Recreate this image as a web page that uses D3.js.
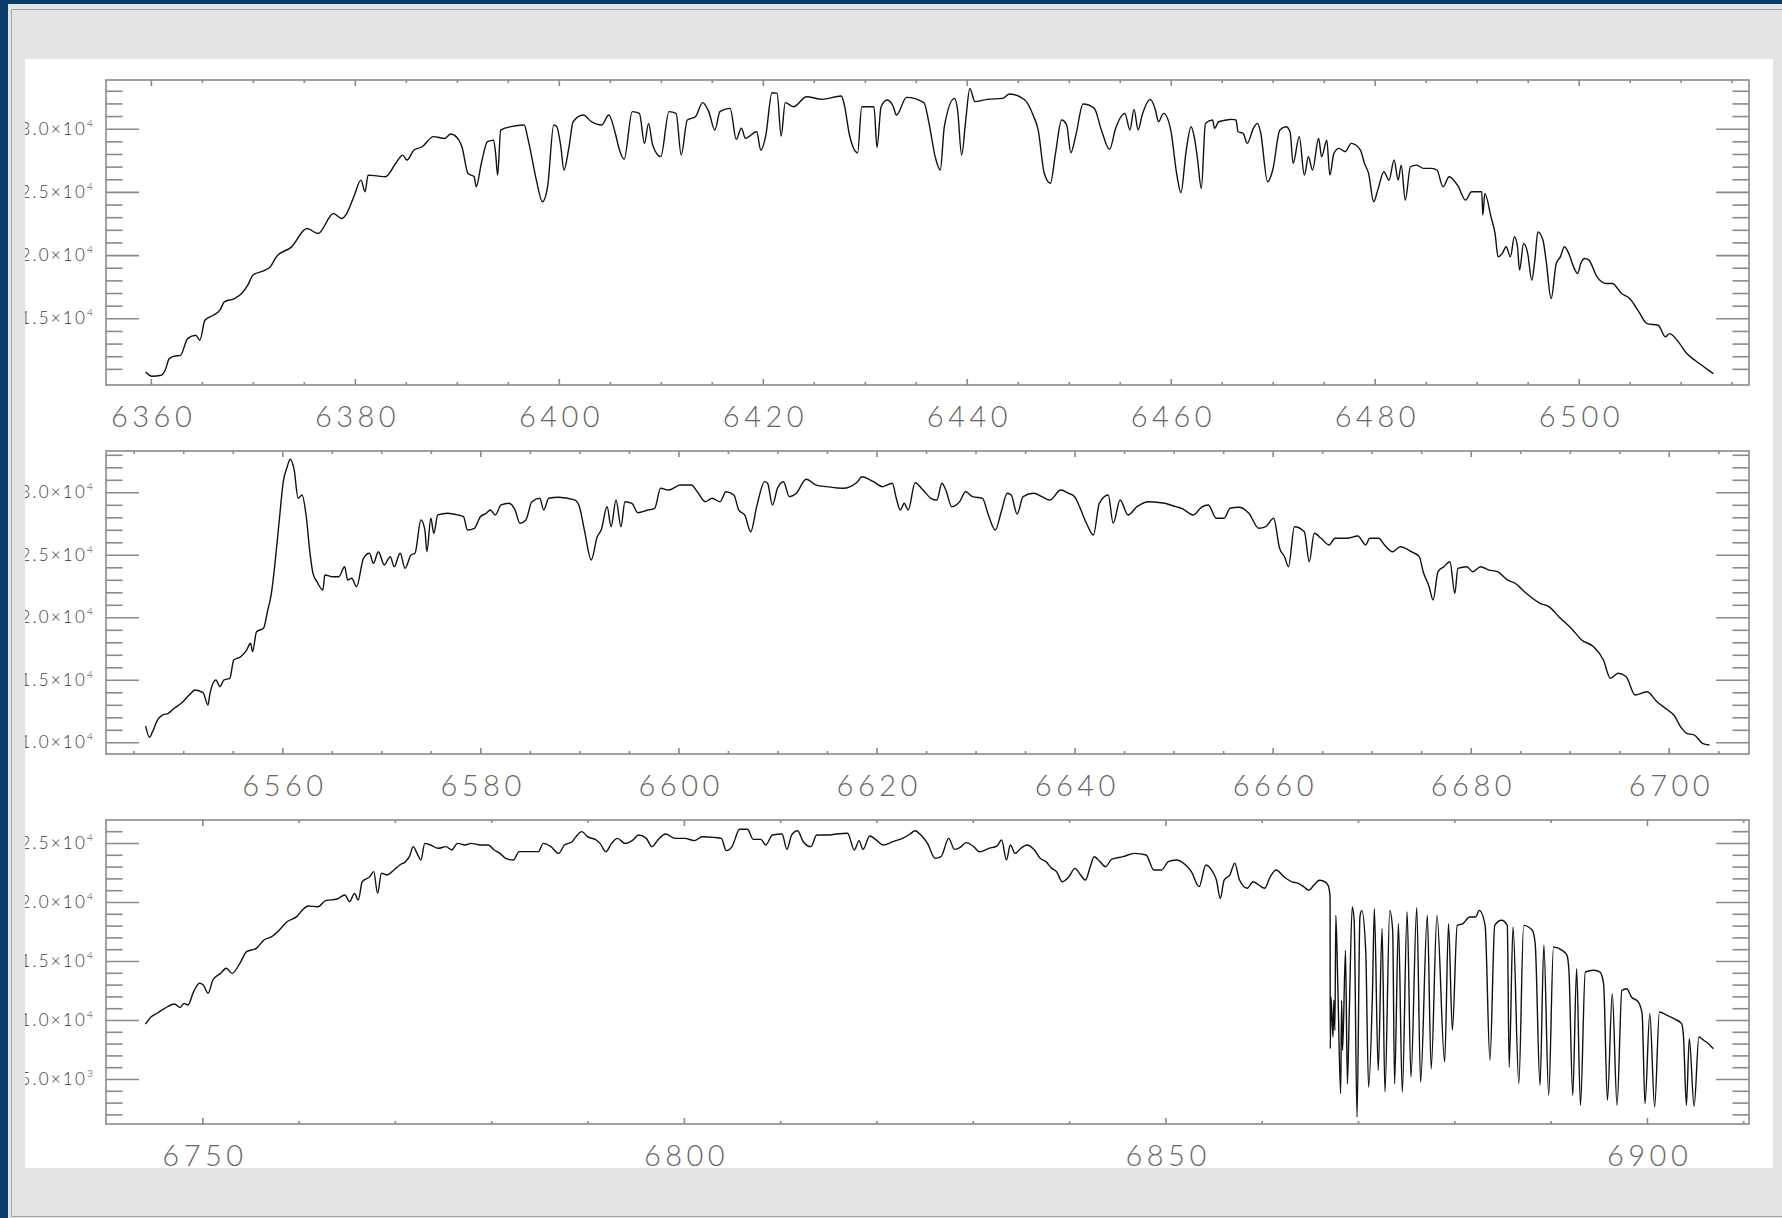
<!DOCTYPE html>
<html>
<head>
<meta charset="utf-8">
<script src="https://cdn.jsdelivr.net/npm/d3@7"></script>
<style>
    html, body { margin: 0; padding: 0; background: #e4e4e4; overflow: hidden; }
    svg { display: block; }
    .xlab { font-family: Lato, "Open Sans", sans-serif; font-weight: 300; font-size: 29px; fill: #666; letter-spacing: 4.5px; }
    .ylab { font-family: Lato, "Open Sans", sans-serif; font-weight: 300; font-size: 17px; fill: #3a3a3a; letter-spacing: 2.2px; }
</style>
</head>
<body>
<svg id="chart" width="1782" height="1218"></svg>
<script>
// spectrum 1 (6360-6515 A)
const wave1 = [
    6359.5, 6360.1, 6361.0, 6361.4, 6361.8, 6362.3, 6362.9, 6363.6, 6364.4, 6364.8,
    6365.3, 6366.1, 6366.8, 6367.2, 6368.2, 6368.9, 6369.5, 6370.0, 6371.2, 6371.7,
    6372.3, 6373.8, 6375.3, 6376.4, 6377.9, 6378.7, 6379.2, 6379.9, 6380.6, 6381.0,
    6381.3, 6382.3, 6383.0, 6384.0, 6384.7, 6385.1, 6385.8, 6386.6, 6387.7, 6388.8,
    6389.4, 6390.2, 6390.5, 6391.1, 6391.7, 6391.9, 6392.4, 6393.0, 6393.6, 6393.8,
    6394.0, 6394.3, 6395.3, 6396.6, 6397.0, 6397.8, 6398.4, 6398.9, 6399.5, 6399.8,
    6400.2, 6400.5, 6401.0, 6401.4, 6402.4, 6403.2, 6404.2, 6404.9, 6405.5, 6405.9,
    6406.4, 6407.2, 6407.9, 6408.4, 6408.8, 6409.2, 6410.0, 6410.8, 6411.5, 6412.0,
    6412.6, 6413.4, 6414.1, 6414.7, 6415.3, 6415.8, 6416.8, 6417.4, 6417.9, 6418.3,
    6419.4, 6419.8, 6420.3, 6420.9, 6421.4, 6421.8, 6422.2, 6423.0, 6424.3, 6425.8,
    6427.7, 6428.0, 6428.5, 6429.3, 6429.7, 6430.9, 6431.2, 6431.6, 6432.2, 6432.8,
    6433.1, 6434.1, 6435.8, 6436.3, 6436.9, 6437.4, 6437.8, 6438.8, 6439.1, 6439.5,
    6439.9, 6440.3, 6440.8, 6442.0, 6443.5, 6444.2, 6445.7, 6446.5, 6447.0, 6447.6,
    6448.2, 6448.7, 6449.3, 6449.8, 6450.2, 6450.7, 6451.4, 6452.5, 6453.2, 6454.0,
    6454.6, 6455.5, 6456.0, 6456.4, 6456.8, 6457.2, 6458.0, 6458.5, 6458.8, 6459.3,
    6460.0, 6460.6, 6461.0, 6461.5, 6462.0, 6462.3, 6462.6, 6463.0, 6463.4, 6464.1,
    6464.3, 6464.7, 6465.5, 6466.0, 6466.4, 6466.6, 6467.1, 6467.5, 6468.1, 6468.5,
    6468.8, 6469.5, 6470.0, 6470.7, 6471.3, 6471.7, 6472.0, 6472.6, 6473.1, 6473.5,
    6473.9, 6474.5, 6474.8, 6475.3, 6475.6, 6476.0, 6476.5, 6477.1, 6477.7, 6478.6,
    6479.0, 6479.4, 6479.9, 6480.3, 6480.9, 6481.4, 6481.9, 6482.3, 6482.6, 6483.0,
    6483.5, 6484.1, 6484.8, 6485.6, 6486.1, 6486.7, 6487.3, 6488.2, 6488.9, 6489.5,
    6490.5, 6490.6, 6490.8, 6491.4, 6491.8, 6492.1, 6492.5, 6492.9, 6493.3, 6493.7,
    6494.0, 6494.2, 6494.6, 6495.0, 6495.4, 6495.7, 6496.0, 6496.5, 6496.8, 6497.3,
    6497.8, 6498.2, 6498.6, 6499.1, 6499.5, 6499.9, 6500.2, 6500.6, 6501.0, 6501.8,
    6502.7, 6503.3, 6504.2, 6505.0, 6505.9, 6506.7, 6507.8, 6508.5, 6508.9, 6509.9,
    6510.6, 6511.4, 6512.3, 6513.2
];
const flux1 = [
    10750, 10410, 10490, 10890, 11810, 12000, 12070, 13390, 13660, 13260,
    14850, 15240, 15690, 16300, 16560, 16960, 17620, 18410, 18810, 19070,
    19860, 20650, 22110, 21710, 23290, 22900, 23290, 24620, 25930, 25010,
    26330, 26250, 26200, 27250, 27910, 27520, 28310, 28570, 29370, 29230,
    29580, 29100, 28570, 26460, 26200, 25410, 27250, 28970, 29100, 28050,
    26330, 29890, 30160, 30290, 29100, 25930, 24220, 25410, 30290, 30160,
    28570, 26730, 28570, 30550, 31080, 30555, 30290, 31080, 29760, 28450,
    27580, 31350, 31210, 28840, 30420, 28710, 27790, 31350, 31210, 27920,
    30690, 30950, 32060, 31350, 29900, 31350, 31610, 29160, 30030, 29240,
    29760, 28310, 29500, 32850, 32800, 29420, 32060, 31740, 32530, 32320,
    32590, 31870, 29500, 28100, 31740, 31740, 28520, 31740, 32270, 31740,
    31080, 32480, 32060, 30420, 27790, 26730, 30160, 32400, 31480, 27920,
    30690, 33190, 32140, 32320, 32400, 32740, 32270, 31080, 29900, 26470,
    25680, 28050, 30690, 30290, 28100, 29500, 31950, 31610, 29900, 28370,
    30030, 31210, 29900, 31530, 29900, 31080, 32320, 31480, 30550, 31210,
    29900, 26340, 24940, 28180, 30160, 29370, 27780, 25270, 30420, 30690,
    30030, 30550, 30690, 30740, 30690, 29760, 29630, 28840, 30030, 30420,
    29760, 25800, 26730, 29890, 30160, 29760, 27250, 29370, 26330, 27780,
    26730, 29230, 27780, 29100, 26330, 28050, 28440, 28180, 28840, 28310,
    27250, 26460, 24220, 25140, 26600, 25930, 27520, 25930, 27120, 24350,
    26990, 27120, 26860, 26860, 26730, 25410, 26200, 25410, 24350, 25010,
    25010, 23160, 24880, 23030, 21710, 19860, 20130, 20660, 19860, 21450,
    20660, 18810, 20920, 20130, 18010, 19600, 21840, 21180, 19600, 16560,
    19330, 19860, 20660, 19990, 19070, 18540, 19330, 19730, 19600, 18280,
    17750, 17750, 16960, 16560, 15510, 14580, 14450, 13530, 13790, 13000,
    12210, 11680, 11150, 10620
];

// spectrum 2 (6546-6704 A, H-alpha)
const wave2 = [
    6546.2, 6546.6, 6546.9, 6547.4, 6547.9, 6548.5, 6549.1, 6549.8, 6550.6, 6551.2,
    6552.0, 6552.5, 6552.7, 6553.3, 6553.7, 6554.1, 6554.7, 6555.1, 6555.8, 6556.4,
    6556.8, 6557.0, 6557.4, 6558.1, 6558.5, 6558.9, 6559.3, 6559.7, 6560.1, 6560.5,
    6560.8, 6561.2, 6561.6, 6562.0, 6562.4, 6562.8, 6563.1, 6563.5, 6564.1, 6564.3,
    6565.1, 6565.7, 6566.3, 6566.6, 6567.0, 6567.5, 6568.2, 6568.8, 6569.2, 6569.7,
    6570.3, 6570.9, 6571.3, 6571.9, 6572.4, 6573.0, 6573.4, 6574.0, 6574.4, 6574.6,
    6575.0, 6575.3, 6575.7, 6576.7, 6577.7, 6578.3, 6578.7, 6579.4, 6580.0, 6580.6,
    6581.0, 6581.5, 6582.1, 6582.9, 6583.5, 6584.0, 6584.6, 6585.2, 6586.0, 6586.4,
    6586.9, 6587.9, 6589.5, 6590.0, 6590.5, 6591.2, 6591.8, 6592.2, 6592.8, 6593.2,
    6593.7, 6594.2, 6594.6, 6595.3, 6595.9, 6596.9, 6597.6, 6598.2, 6599.0, 6600.2,
    6601.3, 6601.9, 6602.7, 6603.4, 6604.2, 6604.8, 6605.6, 6606.1, 6606.7, 6607.3,
    6607.9, 6608.7, 6609.0, 6609.5, 6610.0, 6610.6, 6611.2, 6611.9, 6612.9, 6613.9,
    6615.0, 6616.6, 6618.1, 6618.5, 6619.7, 6620.6, 6621.6, 6622.0, 6622.4, 6622.8,
    6623.2, 6623.9, 6624.7, 6625.5, 6626.1, 6626.6, 6627.0, 6627.6, 6628.4, 6629.0,
    6629.7, 6630.7, 6631.3, 6632.0, 6632.6, 6633.2, 6633.6, 6634.2, 6634.8, 6635.9,
    6636.7, 6637.5, 6638.6, 6639.4, 6640.0, 6640.5, 6641.2, 6641.9, 6642.5, 6643.4,
    6643.9, 6644.6, 6645.4, 6646.3, 6647.5, 6649.1, 6650.2, 6650.8, 6652.0, 6652.8,
    6653.5, 6654.3, 6655.1, 6655.7, 6656.6, 6657.6, 6658.6, 6659.3, 6660.1, 6660.7,
    6661.2, 6661.6, 6662.2, 6663.2, 6663.7, 6664.2, 6664.9, 6665.7, 6666.3, 6667.5,
    6668.6, 6669.4, 6669.8, 6670.7, 6671.3, 6672.1, 6672.9, 6674.0, 6674.8, 6675.2,
    6675.8, 6676.2, 6676.7, 6677.3, 6677.9, 6678.4, 6678.7, 6679.6, 6680.2, 6681.0,
    6681.8, 6682.7, 6683.7, 6684.5, 6685.6, 6687.0, 6687.9, 6688.9, 6690.3, 6691.2,
    6692.4, 6693.4, 6694.1, 6694.9, 6695.7, 6696.6, 6697.8, 6698.8, 6699.9, 6700.5,
    6701.3, 6701.8, 6702.6, 6703.4, 6704.1
];
const flux2 = [
    11300, 10400, 10850, 11780, 12180, 12320, 12720, 13120, 13780, 14180,
    13970, 12980, 13920, 14980, 14450, 14980, 15120, 16580, 16850, 17380,
    17920, 17250, 18850, 19120, 20450, 21920, 24590, 27790, 30850, 32050,
    32640, 31790, 29520, 29790, 28190, 25120, 23520, 22850, 22190, 23390,
    23250, 23250, 24050, 22990, 23120, 22450, 24720, 25120, 24320, 25250,
    24190, 24850, 24050, 25120, 23920, 24990, 25120, 27790, 26990, 25250,
    27920, 26720, 28190, 28320, 28190, 28050, 26990, 27120, 28050, 28320,
    28590, 28190, 28990, 29120, 28590, 27520, 27790, 29250, 29520, 28590,
    29520, 29600, 29390, 28850, 26990, 24590, 26450, 26980, 28850, 27250,
    29380, 27250, 29250, 29120, 28370, 28580, 28720, 30320, 30180, 30580,
    30580, 30050, 29250, 29520, 29250, 30050, 29780, 28580, 28180, 26850,
    28850, 30850, 30720, 28980, 30320, 30850, 29650, 29920, 31040, 30580,
    30450, 30320, 30850, 31250, 30850, 30450, 30720, 29520, 28580, 29120,
    28580, 30770, 30180, 29520, 29380, 30720, 30180, 28850, 29250, 30050,
    29650, 29520, 28180, 26980, 28450, 29920, 29780, 28260, 29650, 29920,
    29650, 29380, 30180, 29920, 29650, 28850, 27520, 26580, 29120, 29780,
    27520, 29380, 28180, 28850, 29250, 29120, 28850, 28720, 28190, 28800,
    28990, 27920, 27920, 28720, 28800, 28320, 27120, 27250, 27920, 25520,
    24850, 24050, 27250, 26850, 24450, 26720, 26320, 25790, 26320, 26320,
    26510, 25790, 26320, 26320, 25790, 25250, 25650, 25250, 24850, 23650,
    22450, 21390, 23650, 24050, 24450, 21920, 23920, 24050, 23650, 24050,
    23790, 23650, 22990, 22720, 21920, 21120, 20850, 20050, 18990, 18190,
    17650, 16580, 15120, 15520, 15250, 13780, 14050, 13250, 12580, 12180,
    11120, 10720, 10580, 9920, 9780
];

// spectrum 3 (6744-6907 A, O2 B band)
const wave3 = [
    6744.1, 6744.7, 6745.3, 6746.1, 6747.1, 6747.7, 6748.1, 6748.5, 6749.1, 6749.7,
    6750.1, 6750.6, 6751.1, 6751.9, 6752.5, 6753.1, 6753.9, 6754.6, 6755.6, 6756.4,
    6757.2, 6758.0, 6758.8, 6759.8, 6760.4, 6761.0, 6762.0, 6762.8, 6764.0, 6764.8,
    6765.3, 6765.8, 6766.2, 6766.6, 6767.4, 6767.8, 6768.2, 6768.6, 6769.2, 6769.9,
    6770.5, 6771.1, 6771.5, 6771.9, 6772.3, 6772.7, 6773.1, 6773.7, 6774.5, 6775.3,
    6775.9, 6776.5, 6777.3, 6777.9, 6778.9, 6779.7, 6780.3, 6780.9, 6781.5, 6782.3,
    6782.9, 6783.9, 6784.9, 6785.4, 6786.2, 6787.0, 6787.6, 6788.4, 6788.8, 6789.4,
    6790.0, 6790.9, 6791.3, 6791.9, 6792.5, 6793.1, 6793.9, 6794.7, 6795.3, 6796.1,
    6796.7, 6797.3, 6798.1, 6799.1, 6800.1, 6801.1, 6801.9, 6803.1, 6803.9, 6804.4,
    6805.0, 6805.8, 6806.6, 6807.2, 6808.0, 6808.5, 6809.2, 6810.2, 6810.7, 6811.2,
    6811.8, 6812.4, 6813.2, 6813.8, 6815.0, 6815.8, 6817.0, 6817.7, 6818.2, 6818.6,
    6819.3, 6819.9, 6820.7, 6821.7, 6822.7, 6823.5, 6824.0, 6824.7, 6825.3, 6826.1,
    6826.7, 6827.5, 6828.1, 6828.7, 6829.3, 6830.1, 6830.7, 6831.7, 6832.5, 6833.0,
    6833.5, 6833.9, 6834.4, 6835.0, 6835.6, 6836.4, 6837.0, 6837.6, 6838.2, 6838.7,
    6839.3, 6840.0, 6840.6, 6841.2, 6841.7, 6842.2, 6842.6, 6843.2, 6843.8, 6844.4,
    6845.6, 6846.8, 6848.0, 6848.8, 6849.6, 6850.3, 6851.1, 6852.1, 6852.7, 6853.5,
    6854.2, 6854.9, 6855.3, 6855.7, 6856.1, 6856.7, 6857.2, 6857.7, 6858.5, 6859.1,
    6859.7, 6860.3, 6860.9, 6861.5, 6862.3, 6863.1, 6863.8, 6864.4, 6864.9, 6865.4,
    6866.0, 6866.4, 6866.9, 6867.1, 6867.12, 6867.2, 6867.4, 6867.5, 6867.6, 6867.7,
    6867.9, 6868.2, 6868.3, 6868.4, 6868.7, 6868.9, 6869.1, 6869.4, 6869.6, 6869.9,
    6870.2, 6870.4, 6870.8, 6871.1, 6871.5, 6871.7, 6872.1, 6872.5, 6872.8, 6873.3,
    6873.6, 6873.8, 6874.2, 6874.6, 6875.1, 6875.5, 6876.1, 6876.5, 6877.2, 6877.6,
    6878.2, 6879.0, 6879.4, 6879.8, 6880.3, 6880.9, 6881.6, 6882.2, 6882.6, 6883.2,
    6883.7, 6884.2, 6884.9, 6885.5, 6885.7, 6886.1, 6886.7, 6887.2, 6888.1, 6888.4,
    6888.9, 6889.3, 6889.8, 6890.3, 6891.2, 6891.7, 6891.9, 6892.3, 6892.7, 6893.1,
    6893.6, 6894.5, 6895.1, 6895.5, 6895.9, 6896.4, 6896.9, 6897.4, 6897.9, 6898.4,
    6899.1, 6899.5, 6899.8, 6900.3, 6900.8, 6901.3, 6902.1, 6902.8, 6903.6, 6903.8,
    6904.1, 6904.4, 6904.9, 6905.4, 6905.9, 6906.4, 6906.9
];
const flux3 = [
    9660, 10280, 10570, 10990, 11360, 11070, 11410, 11270, 12400, 13110,
    12970, 12260, 13390, 13950, 14380, 13950, 14800, 15790, 16070, 16780,
    17060, 17630, 18330, 18760, 19320, 19660, 19600, 20110, 20250, 20590,
    20030, 20730, 20170, 21720, 22150, 22570, 20730, 22430, 22290, 22710,
    23140, 23420, 23840, 24690, 24120, 23560, 24970, 24830, 24550, 24690,
    24410, 24970, 24830, 24970, 24830, 24830, 24410, 24120, 23700, 23560,
    24270, 24270, 24270, 24970, 24690, 24120, 24830, 25110, 25540, 25960,
    25540, 25250, 24970, 24260, 24970, 25390, 24970, 25250, 25680, 25390,
    24690, 25250, 25760, 25390, 25390, 25200, 25530, 25480, 25390, 24350,
    24690, 26160, 26160, 25310, 25310, 24830, 25680, 25760, 24460, 25680,
    26040, 25110, 24690, 25680, 25680, 25760, 25820, 24410, 25200, 24460,
    25590, 25310, 24830, 25110, 25390, 25760, 26040, 25590, 24970, 23700,
    23840, 25390, 24460, 24630, 25030, 24690, 24260, 24550, 24740, 25250,
    23560, 24830, 24120, 24550, 24830, 24410, 23700, 23420, 22850, 22570,
    21720, 22150, 22850, 22290, 21860, 22990, 23840, 23420, 22990, 23610,
    23840, 24120, 23980, 22710, 22710, 23420, 23560, 23140, 22570, 21300,
    23140, 22570, 21860, 20310, 21860, 22290, 23280, 21860, 21160, 21720,
    21440, 21160, 22150, 22710, 22150, 21720, 21580, 21270, 20990, 21410,
    21840, 21780, 21410, 20420, 7570, 11950, 8560, 11670, 9120, 18870,
    13080, 3760, 11670, 7430, 15900, 4600, 10820, 19580, 18450, 1780,
    18730, 19290, 15900, 4320, 12230, 19430, 5730, 17740, 3900, 19290,
    17600, 4600, 18170, 3900, 19150, 5170, 19520, 4740, 18870, 5870,
    18870, 6440, 18170, 9120, 18020, 18170, 18730, 18730, 19290, 18020,
    6580, 18020, 18450, 18020, 6020, 17880, 4600, 18020, 17600, 16470,
    4460, 16330, 3620, 16190, 15900, 15480, 14210, 3620, 14350, 2770,
    14070, 14210, 14070, 13080, 3190, 12230, 2770, 12510, 12650, 11950,
    11530, 10540, 2910, 10540, 2630, 10680, 10400, 10110, 9690, 8560,
    2770, 8420, 2680, 8560, 8280, 7990, 7570
];

// axis ranges and tick labels
const xRange1 = [6355.6, 6516.7];
const xRange2 = [6542.2, 6708.1];
const xRange3 = [6740.0, 6910.6];
const yRange1 = [9723, 33853];
const yRange2 = [9064, 33304];
const yRange3 = [1186, 26949];
const xTicks1 = [6360, 6380, 6400, 6420, 6440, 6460, 6480, 6500];
const xTicks2 = [6560, 6580, 6600, 6620, 6640, 6660, 6680, 6700];
const xTicks3 = [6750, 6800, 6850, 6900];
const yTicks1 = [15000, 20000, 25000, 30000];
const yTicks2 = [10000, 15000, 20000, 25000, 30000];
const yTicks3 = [5000, 10000, 15000, 20000, 25000];

const W = 1782, H = 1218;
const plotLeft = 106, plotRight = 1749;
const panels = [
    { wave: wave1, flux: flux1, xr: xRange1, yr: yRange1, xt: xTicks1, yt: yTicks1, xMinor: 5, top: 80, bottom: 385 },
    { wave: wave2, flux: flux2, xr: xRange2, yr: yRange2, xt: xTicks2, yt: yTicks2, xMinor: 5, top: 451, bottom: 754 },
    { wave: wave3, flux: flux3, xr: xRange3, yr: yRange3, xt: xTicks3, yt: yTicks3, xMinor: 10, top: 820, bottom: 1124 }
];

const svg = d3.select("#chart");
const tickColor = "#8a8a8a";

// window frame
svg.append("rect").attr("width", W).attr("height", H).attr("fill", "#e4e4e4");
svg.append("rect").attr("x", 0).attr("y", 0).attr("width", 8).attr("height", H).attr("fill", "#0b3a6c");
svg.append("rect").attr("x", 0).attr("y", 0).attr("width", W).attr("height", 4).attr("fill", "#0b3a6c");
svg.append("path")
    .attr("d", `M${W},9.5H11.5V1216.5H${W}`)
    .attr("fill", "none").attr("stroke", "#a6a6a6").attr("stroke-width", 1);

// white drawing area, everything clipped to it
svg.append("defs").append("clipPath").attr("id", "area")
    .append("rect").attr("x", 25).attr("y", 59).attr("width", 1773 - 25).attr("height", 1168 - 59);
svg.append("rect").attr("x", 25).attr("y", 59).attr("width", 1773 - 25).attr("height", 1168 - 59).attr("fill", "#fff");
const root = svg.append("g").attr("clip-path", "url(#area)");

function supLabel(text, v) {
    const e = Math.floor(Math.log10(v));
    const m = v / Math.pow(10, e);
    text.append("tspan").text(m.toFixed(1) + "\u00d710");
    text.append("tspan").attr("dy", -8).attr("font-size", "10px").text(e);
}

panels.forEach(p => {
    const x = d3.scaleLinear().domain(p.xr).range([plotLeft, plotRight]);
    const y = d3.scaleLinear().domain(p.yr).range([p.bottom, p.top]);
    const g = root.append("g");
    const h = p.bottom - p.top;
    const w = plotRight - plotLeft;
    const xLen = Math.round(0.02 * h), yLen = Math.round(0.02 * w);

    // minor tick values, kept off the frame edges
    const inX = v => x(v) > plotLeft + 2 && x(v) < plotRight - 2;
    const inY = v => y(v) < p.bottom - 5 && y(v) > p.top + 2;
    const xMin = d3.range(Math.ceil(p.xr[0] / p.xMinor) * p.xMinor, p.xr[1], p.xMinor)
        .filter(v => inX(v) && !p.xt.includes(v));
    const yMin = d3.range(Math.ceil(p.yr[0] / 1000) * 1000, p.yr[1], 1000)
        .filter(v => inY(v) && !p.yt.includes(v));
    const xMaj = p.xt.filter(inX);

    const styleAxis = sel => {
        sel.select(".domain").remove();
        sel.selectAll("line").attr("stroke", tickColor).attr("stroke-width", 1.6);
    };

    // x ticks bottom and top
    g.append("g").attr("transform", `translate(0,${p.bottom})`)
        .call(d3.axisBottom(x).tickValues(xMin).tickSize(-xLen / 2).tickFormat(""))
        .call(styleAxis);
    g.append("g").attr("transform", `translate(0,${p.top})`)
        .call(d3.axisTop(x).tickValues(xMin).tickSize(-xLen / 2).tickFormat(""))
        .call(styleAxis);
    g.append("g").attr("transform", `translate(0,${p.top})`)
        .call(d3.axisTop(x).tickValues(xMaj).tickSize(-xLen).tickFormat(""))
        .call(styleAxis);
    const xb = g.append("g").attr("transform", `translate(0,${p.bottom})`)
        .call(d3.axisBottom(x).tickValues(xMaj).tickSize(-xLen).tickPadding(21).tickFormat(d3.format("d")))
        .call(styleAxis);
    // letter-spacing leaves a trailing gap, nudge it back to centre
    xb.selectAll("text").attr("class", "xlab").attr("fill", null).attr("dx", 2.2);

    // y ticks left and right
    g.append("g").attr("transform", `translate(${plotLeft},0)`)
        .call(d3.axisLeft(y).tickValues(yMin).tickSize(-yLen / 2).tickFormat(""))
        .call(styleAxis);
    g.append("g").attr("transform", `translate(${plotLeft},0)`)
        .call(d3.axisLeft(y).tickValues(p.yt).tickSize(-yLen).tickFormat(""))
        .call(styleAxis);
    g.append("g").attr("transform", `translate(${plotRight},0)`)
        .call(d3.axisRight(y).tickValues(yMin).tickSize(-yLen / 2).tickFormat(""))
        .call(styleAxis);
    g.append("g").attr("transform", `translate(${plotRight},0)`)
        .call(d3.axisRight(y).tickValues(p.yt).tickSize(-yLen).tickFormat(""))
        .call(styleAxis);

    // y labels like 3.0x10^4
    g.selectAll("text.ylab").data(p.yt).enter().append("text")
        .attr("class", "ylab")
        .attr("text-anchor", "end")
        .attr("x", plotLeft - 11)
        .attr("y", d => y(d) + 6)
        .each(function (d) { supLabel(d3.select(this), d); });

    // frame
    g.append("rect")
        .attr("x", plotLeft).attr("y", p.top).attr("width", w).attr("height", h)
        .attr("fill", "none").attr("stroke", tickColor).attr("stroke-width", 1.6);

    // spectrum
    const pts = p.wave.map((v, i) => [v, p.flux[i]]);
    g.append("path")
        .datum(pts)
        .attr("fill", "none")
        .attr("stroke", "#111")
        .attr("stroke-width", 1.4)
        .attr("stroke-linejoin", "round")
        .attr("d", d3.line().curve(d3.curveMonotoneX).x(d => x(d[0])).y(d => y(d[1])));
});
</script>
</body>
</html>
